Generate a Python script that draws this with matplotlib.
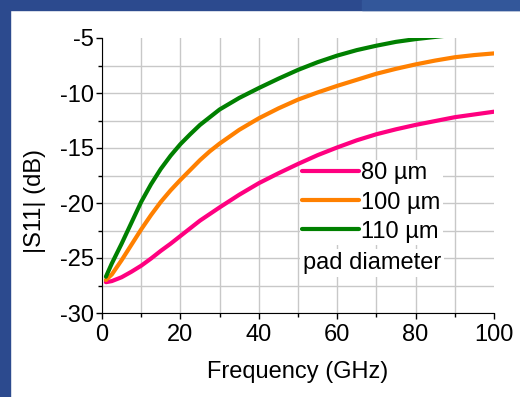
import matplotlib
matplotlib.use("Agg")
import matplotlib.pyplot as plt
from matplotlib.patches import Rectangle
from matplotlib.ticker import MultipleLocator

plt.rcParams['font.family'] = ['Liberation Sans', 'DejaVu Sans']
plt.rcParams['axes.unicode_minus'] = False

freq = [1, 2.5, 5, 7.5, 10, 12.5, 15, 17.5, 20, 22.5, 25, 27.5, 30, 35, 40, 45, 50,
        55, 60, 65, 70, 75, 80, 85, 90, 95, 100]
s11_80 = [-27.2, -27.1, -26.75, -26.25, -25.7, -25.05, -24.35, -23.7, -23.0, -22.3,
          -21.6, -21.0, -20.4, -19.25, -18.2, -17.3, -16.45, -15.65, -14.95, -14.3,
          -13.75, -13.3, -12.9, -12.55, -12.2, -11.95, -11.7]
s11_100 = [-27.0, -26.5, -25.2, -23.8, -22.4, -21.1, -19.9, -18.85, -17.9, -17.0,
           -16.1, -15.3, -14.6, -13.35, -12.3, -11.4, -10.6, -9.95, -9.35, -8.8,
           -8.25, -7.8, -7.4, -7.05, -6.75, -6.55, -6.4]
s11_110 = [-26.7, -25.5, -23.7, -21.8, -19.9, -18.3, -16.9, -15.7, -14.65, -13.75,
           -12.9, -12.2, -11.5, -10.45, -9.55, -8.7, -7.9, -7.2, -6.6, -6.1,
           -5.7, -5.35, -5.1, -4.9, -4.7, -4.55, -4.4]
labels = ['80 µm', '100 µm', '110 µm']
colors = ['#ff0080', '#ff8000', '#008000']

fig = plt.figure(figsize=(5.2, 3.97), dpi=100)
fig.patch.set_facecolor('white')
blue = '#2c4a8e'
fig.patches.append(Rectangle((0, 387 / 397), 1, 10 / 397, transform=fig.transFigure,
                             color=blue, zorder=-10))
fig.patches.append(Rectangle((362 / 520, 387 / 397), 158 / 520, 10 / 397,
                             transform=fig.transFigure, color='#33579a', zorder=-9))
fig.patches.append(Rectangle((0, 0), 10 / 520, 1, transform=fig.transFigure,
                             color=blue, zorder=-10))

ax = fig.add_axes([102 / 520, 1 - 313 / 397, 392 / 520, 275 / 397])
for ys, lab, c in zip([s11_80, s11_100, s11_110], labels, colors):
    ax.plot(freq, ys, color=c, lw=3, label=lab, solid_capstyle='round')

ax.set_xlim(0, 100)
ax.set_ylim(-30, -5)
ax.xaxis.set_major_locator(MultipleLocator(20))
ax.xaxis.set_minor_locator(MultipleLocator(10))
ax.yaxis.set_major_locator(MultipleLocator(5))
ax.yaxis.set_minor_locator(MultipleLocator(2.5))
ax.set_axisbelow(True)
ax.grid(which='both', color='#c8c8c8', lw=1)
for side in ['top', 'right']:
    ax.spines[side].set_visible(False)
ax.tick_params(which='major', direction='out', length=4, width=1, labelsize=17, pad=2)
ax.tick_params(which='minor', direction='out', length=3, width=1)
ax.tick_params(axis='x', pad=4)

ax.set_xlabel('Frequency (GHz)', fontsize=17, labelpad=11)
fig.text(35 / 520, 1 - 201 / 397, '|S11| (dB)', rotation=90, fontsize=17,
         ha='center', va='center')

leg = ax.legend(loc='upper left', bbox_to_anchor=(0.505, 0.556), borderaxespad=0,
                frameon=True, fontsize=17, handlelength=2.4, handletextpad=0.1,
                labelspacing=0.3, borderpad=0.1, fancybox=False)
leg.get_frame().set_facecolor('white')
leg.get_frame().set_edgecolor('none')
leg.get_frame().set_alpha(1)
leg.set_zorder(1)
ax.text(0.513, 0.182, 'pad diameter', transform=ax.transAxes, fontsize=17,
        ha='left', va='center', zorder=1,
        bbox=dict(facecolor='white', edgecolor='none', pad=2))

# no grid line along the top edge or the right edge
fig.canvas.draw()
for t in ax.yaxis.get_major_ticks():
    if abs(t.get_loc() + 5) < 1e-6:
        t.gridline.set_visible(False)
for t in ax.xaxis.get_major_ticks():
    if abs(t.get_loc() - 100) < 1e-6:
        t.gridline.set_visible(False)

fig.savefig('out.png', dpi=100)
